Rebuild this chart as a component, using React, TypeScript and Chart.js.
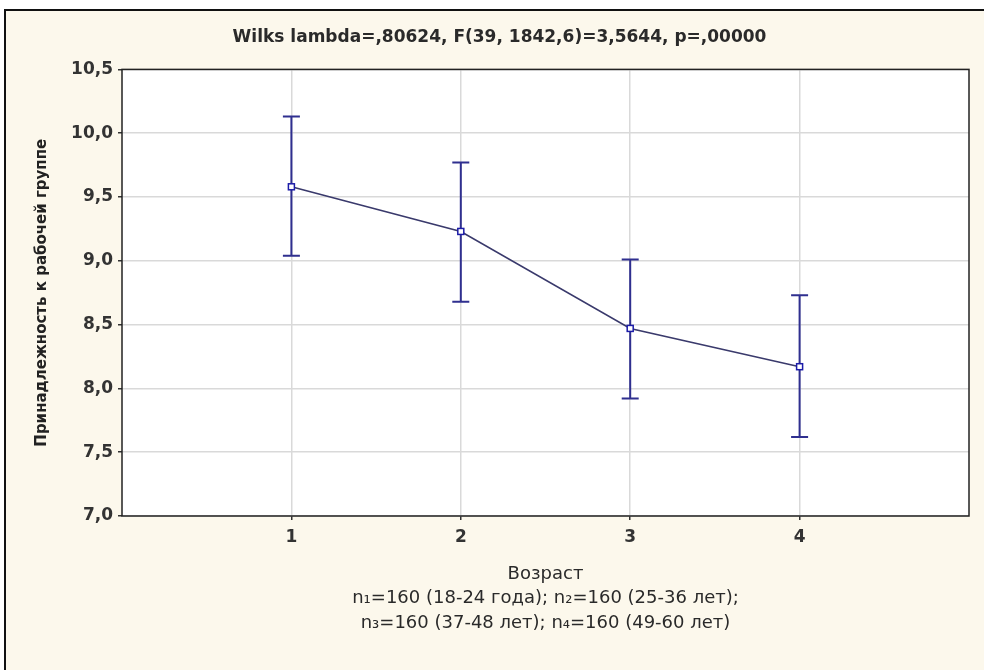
import React, { useEffect, useRef } from "react";
import { Chart, registerables } from "chart.js";

Chart.register(...registerables);

const groups = [1, 2, 3, 4];
const xTickLabels = ["1", "2", "3", "4"];
const means = [9.58, 9.23, 8.47, 8.17];
const upper = [10.13, 9.77, 9.01, 8.73];
const lower = [9.04, 8.68, 7.92, 7.62];
const yTickValues = [7.0, 7.5, 8.0, 8.5, 9.0, 9.5, 10.0, 10.5];
const yTickLabels = ["7,0", "7,5", "8,0", "8,5", "9,0", "9,5", "10,0", "10,5"];
const titleText = "Wilks lambda=,80624, F(39, 1842,6)=3,5644, p=,00000";
const yTitle = "Принадлежность к рабочей группе";
const xTitle = [
  "Возраст",
  "n\u2081=160 (18-24 года); n\u2082=160 (25-36 лет);",
  "n\u2083=160 (37-48 лет); n\u2084=160 (49-60 лет)",
];

const FONT = "'DejaVu Sans', sans-serif";

const bgPlugin = {
  id: "bgPlugin",
  beforeDraw(chart: any) {
    const { ctx, width, height, chartArea } = chart;
    ctx.save();
    ctx.fillStyle = "#ffffff";
    ctx.fillRect(0, 0, width, height);
    ctx.fillStyle = "#fcf8ec";
    ctx.fillRect(5, 10, width, height);
    ctx.strokeStyle = "#111";
    ctx.lineWidth = 2;
    ctx.strokeRect(5, 10, width + 10, height + 10);
    ctx.fillStyle = "#ffffff";
    ctx.fillRect(chartArea.left, chartArea.top, chartArea.right - chartArea.left, chartArea.bottom - chartArea.top);
    ctx.restore();
  },
  afterDraw(chart: any) {
    const { ctx, chartArea } = chart;
    ctx.save();
    ctx.strokeStyle = "#222";
    ctx.lineWidth = 1.5;
    ctx.strokeRect(chartArea.left, chartArea.top, chartArea.right - chartArea.left, chartArea.bottom - chartArea.top);
    ctx.restore();
  },
};

const errorBarPlugin = {
  id: "errorBarPlugin",
  afterDatasetsDraw(chart: any) {
    const { ctx, scales } = chart;
    const xs = scales.x;
    const ys = scales.y;
    ctx.save();
    ctx.strokeStyle = "#2f2f8f";
    ctx.lineWidth = 2;
    groups.forEach((g, i) => {
      const px = xs.getPixelForValue(g);
      const pt = ys.getPixelForValue(upper[i]);
      const pb = ys.getPixelForValue(lower[i]);
      ctx.beginPath();
      ctx.moveTo(px, pt);
      ctx.lineTo(px, pb);
      ctx.moveTo(px - 8.5, pt);
      ctx.lineTo(px + 8.5, pt);
      ctx.moveTo(px - 8.5, pb);
      ctx.lineTo(px + 8.5, pb);
      ctx.stroke();
    });
    const meta = chart.getDatasetMeta(0);
    meta.data.forEach((p: any) => {
      ctx.fillStyle = "#ffffff";
      ctx.strokeStyle = "#1c1ca8";
      ctx.lineWidth = 1.5;
      ctx.fillRect(p.x - 3, p.y - 3, 6, 6);
      ctx.strokeRect(p.x - 3, p.y - 3, 6, 6);
    });
    ctx.restore();
  },
};

export default function App() {
  const ref = useRef<HTMLCanvasElement | null>(null);
  useEffect(() => {
    if (!ref.current) return;
    const chart = new Chart(ref.current, {
      type: "line",
      data: {
        datasets: [
          {
            data: groups.map((g, i) => ({ x: g, y: means[i] })),
            borderColor: "#3a3a6c",
            borderWidth: 1.6,
            pointRadius: 0,
            tension: 0,
            fill: false,
          },
        ],
      },
      options: {
        responsive: false,
        animation: false,
        layout: { padding: { left: 30, right: 15, top: 0, bottom: 0 } },
        plugins: {
          legend: { display: false },
          tooltip: { enabled: false },
          title: {
            display: true,
            text: titleText,
            color: "#2a2a2a",
            font: { family: FONT, size: 17, weight: "bold", lineHeight: 1.2 },
            padding: { top: 27, bottom: 22 },
          },
        },
        scales: {
          x: {
            type: "linear",
            min: 0,
            max: 5,
            afterFit(scale: any) {
              scale.height = 154;
            },
            afterBuildTicks(scale: any) {
              scale.ticks = groups.map((g) => ({ value: g }));
            },
            ticks: {
              color: "#333",
              font: { family: FONT, size: 17, weight: "bold" },
              padding: 7,
              maxRotation: 0,
              callback: (v: any) => {
                const idx = groups.indexOf(Number(v));
                return idx >= 0 ? xTickLabels[idx] : "";
              },
            },
            grid: { color: "#d9d9d9", lineWidth: 1.5, tickLength: 4, tickColor: "#333" },
            border: { display: false },
            title: {
              display: true,
              text: xTitle,
              color: "#2a2a2a",
              font: { family: FONT, size: 18, lineHeight: 1.34 },
              padding: { top: 0, bottom: 35 },
            },
          },
          y: {
            type: "linear",
            min: 7,
            max: 10.5,
            afterFit(scale: any) {
              scale.width = 92;
            },
            afterBuildTicks(scale: any) {
              scale.ticks = yTickValues.map((v) => ({ value: v }));
            },
            ticks: {
              color: "#333",
              font: { family: FONT, size: 17, weight: "bold" },
              padding: 5,
              callback: (v: any) => {
                const idx = yTickValues.findIndex((t) => Math.abs(t - Number(v)) < 1e-6);
                return idx >= 0 ? yTickLabels[idx] : "";
              },
            },
            grid: { color: "#d9d9d9", lineWidth: 1.5, tickLength: 4, tickColor: "#333" },
            border: { display: false },
            title: {
              display: true,
              text: yTitle,
              color: "#222",
              font: { family: FONT, size: 15, weight: "bold", lineHeight: 1.2 },
              padding: { top: 3, bottom: 0 },
            },
          },
        },
      },
      plugins: [bgPlugin, errorBarPlugin],
    } as any);
    return () => chart.destroy();
  }, []);

  return (
    <div style={{ position: "fixed", left: 0, top: 0, width: 984, height: 670 }}>
      <canvas ref={ref} width={984} height={670} style={{ display: "block", width: 984, height: 670 }} />
    </div>
  );
}
